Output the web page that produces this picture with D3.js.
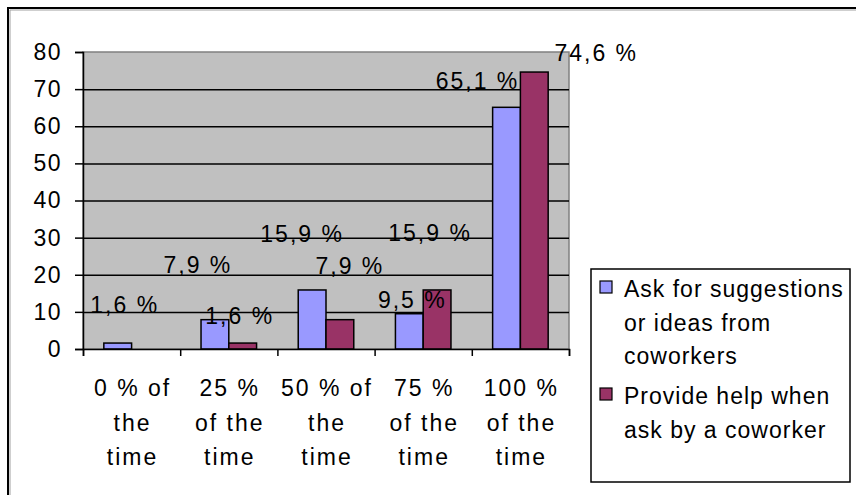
<!DOCTYPE html>
<html>
<head>
<meta charset="utf-8">
<script src="https://cdn.jsdelivr.net/npm/d3@7"></script>
<style>
  body { margin: 0; background: #fff; }
  text { font-family: "Liberation Sans", Arial, sans-serif; fill: #000; }
</style>
</head>
<body>
<svg id="chart" width="856" height="495"></svg>
<script>
// data
const categories = ["0 %", "25 %", "50 %", "75 %", "100 %"];
const categoryLines = [
  ["0 % of", "the", "time"],
  ["25 %", "of the", "time"],
  ["50 % of", "the", "time"],
  ["75 %", "of the", "time"],
  ["100 %", "of the", "time"]
];
const seriesNames = [
  ["Ask for suggestions", "or ideas from", "coworkers"],
  ["Provide help when", "ask by a coworker"]
];
const askValues = [1.6, 7.9, 15.9, 9.5, 65.1];
const helpValues = [0, 1.6, 7.9, 15.9, 74.6];
const yTicks = [0, 10, 20, 30, 40, 50, 60, 70, 80];

// label nudges (Excel put them in odd places)
const labelNudge = [
  [[6, 31], [-18, 48], [-11, 49], [2, 7], [-30, 19]],
  [null, [-4, 20], [9, 47], [-8, 50], [61, 12]]
];

const colors = ["#9999ff", "#993366"];
const svg = d3.select("#chart");

// outer chart frame
svg.append("rect").attr("x", 8).attr("y", 8).attr("width", 900).attr("height", 600)
  .attr("fill", "#fff").attr("stroke", "#000").attr("stroke-width", 2);
svg.append("path").attr("d", "M10,600V10H900")
  .attr("fill", "none").attr("stroke", "#a0a0a0").attr("stroke-width", 1);

const plot = { left: 83, top: 52, right: 569, bottom: 349 };
const y = d3.scaleLinear().domain([0, 80]).range([plot.bottom, plot.top]);
const x = d3.scaleBand().domain(categories).range([plot.left, plot.right]);
const barW = x.bandwidth() / 3.5;
const xs = d3.scaleBand().domain([0, 1]).range([0, 2 * barW]);
const gapOff = (x.bandwidth() - 2 * barW) / 2;

// plot background
svg.append("rect").attr("x", plot.left).attr("y", plot.top)
  .attr("width", plot.right - plot.left).attr("height", plot.bottom - plot.top)
  .attr("fill", "#c0c0c0").attr("stroke", "#808080").attr("stroke-width", 1.5);

// gridlines
const grid = svg.append("g").attr("transform", `translate(${plot.left},0)`)
  .call(d3.axisLeft(y).tickValues(yTicks.filter(d => d > 0 && d < 80))
    .tickSize(-(plot.right - plot.left)).tickFormat(""));
grid.select(".domain").remove();
grid.selectAll("line").attr("stroke", "#000").attr("stroke-width", 1.5);

// bars
const series = [askValues, helpValues];
series.forEach((vals, s) => {
  svg.append("g").selectAll("rect").data(vals).enter().append("rect")
    .attr("x", (d, i) => x(categories[i]) + gapOff + xs(s))
    .attr("y", d => y(d))
    .attr("width", barW)
    .attr("height", d => y(0) - y(d))
    .attr("fill", colors[s])
    .attr("stroke", "#000").attr("stroke-width", d => d > 0 ? 1.5 : 0);
});

// y axis
const yAxis = svg.append("g").attr("transform", `translate(${plot.left},0)`)
  .call(d3.axisLeft(y).tickValues(yTicks).tickSize(8).tickPadding(13));
yAxis.select(".domain").attr("stroke", "#000").attr("stroke-width", 1.5);
yAxis.selectAll("line").attr("stroke", "#000").attr("stroke-width", 1.5);
yAxis.selectAll("text").attr("font-size", 23).attr("font-family", "Liberation Sans, Arial, sans-serif")
  .attr("letter-spacing", 1.5).attr("fill", "#000");

// x axis
const xEdge = d3.scaleLinear().domain([0, categories.length]).range([plot.left, plot.right]);
const xAxis = svg.append("g").attr("transform", `translate(0,${plot.bottom})`)
  .call(d3.axisBottom(xEdge).tickValues(d3.range(categories.length + 1))
    .tickSize(7).tickFormat(""));
xAxis.select(".domain").attr("stroke", "#000").attr("stroke-width", 1.5);
xAxis.selectAll("line").attr("stroke", "#000").attr("stroke-width", 1.5);

// category labels
categoryLines.forEach((lines, i) => {
  const t = svg.append("text").attr("text-anchor", "middle")
    .attr("font-size", 23).attr("letter-spacing", 2);
  lines.forEach((ln, k) => {
    t.append("tspan").attr("x", x(categories[i]) + x.bandwidth() / 2 + 1)
      .attr("y", 396 + k * 34.5).text(ln);
  });
});

// data labels
const fmt = v => d3.format(".1f")(v).replace(".", ",") + " %";
series.forEach((vals, s) => {
  vals.forEach((v, i) => {
    const n = labelNudge[s][i];
    if (!n) return;
    svg.append("text")
      .attr("x", x(categories[i]) + gapOff + xs(s) + barW / 2 + n[0] + 1)
      .attr("y", y(v) - n[1] + 1)
      .attr("text-anchor", "middle")
      .attr("font-size", 23).attr("letter-spacing", 2)
      .text(fmt(v));
  });
});

// legend
svg.append("rect").attr("x", 591).attr("y", 269).attr("width", 259).attr("height", 213)
  .attr("fill", "#fff").attr("stroke", "#000").attr("stroke-width", 1.5);
const legendTop = [297, 404];
seriesNames.forEach((lines, s) => {
  svg.append("rect").attr("x", 600).attr("y", legendTop[s] - 16)
    .attr("width", 12).attr("height", 12)
    .attr("fill", colors[s]).attr("stroke", "#000").attr("stroke-width", 1.2);
  const t = svg.append("text").attr("font-size", 23).attr("letter-spacing", 1);
  lines.forEach((ln, k) => {
    t.append("tspan").attr("x", 624).attr("y", legendTop[s] + k * 33.5).text(ln);
  });
});
</script>
</body>
</html>
